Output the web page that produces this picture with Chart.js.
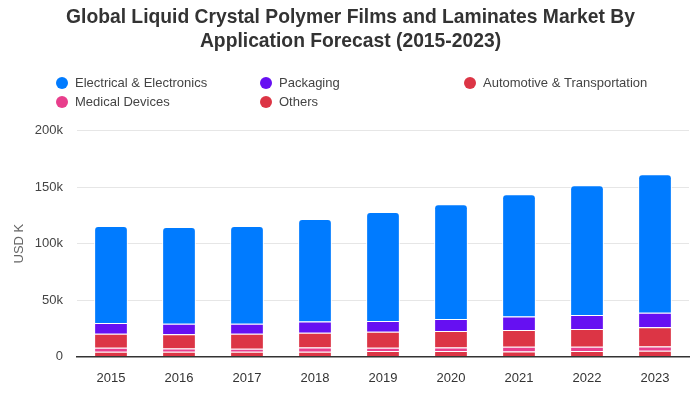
<!DOCTYPE html>
<html>
<head>
<meta charset="utf-8">
<script src="https://cdn.jsdelivr.net/npm/chart.js@4"></script>
<style>
html,body{margin:0;padding:0;background:#fff;}
#wrap{width:700px;height:400px;position:relative;}
</style>
</head>
<body>
<div id="wrap"><canvas id="c" width="700" height="400"></canvas></div>
<script>
const categories = ["2015","2016","2017","2018","2019","2020","2021","2022","2023"];
const electrical = [85.9, 85.8, 86.7, 90.9, 96.5, 101.8, 108.5, 115.0, 122.7];
const packaging  = [9.7, 9.2, 8.9, 10.0, 9.7, 10.6, 11.8, 12.4, 12.9];
const automotive = [12.3, 12.6, 13.2, 12.9, 14.2, 14.7, 15.0, 15.9, 17.1];
const medical    = [3.6, 3.0, 2.7, 3.9, 2.9, 3.2, 4.1, 3.8, 3.8];
const others     = [4.1, 4.1, 4.1, 4.1, 4.7, 4.7, 4.4, 4.7, 5.0];
const seriesNames = ["Electrical & Electronics","Packaging","Automotive & Transportation","Medical Devices","Others"];
const seriesColors = ["#007bff","#6610f2","#dc3545","#e83e8c","#dc3545"];
const yTicks = [0, 50, 100, 150, 200];

const toK = a => a.map(v => v * 1000);

const base = {borderColor:'#ffffff', borderWidth:1, borderSkipped:'bottom', barPercentage:0.62, categoryPercentage:0.8};
const datasets = [
  Object.assign({label:seriesNames[4], data:toK(others), backgroundColor:seriesColors[4]}, base),
  Object.assign({label:seriesNames[3], data:toK(medical), backgroundColor:seriesColors[3]}, base),
  Object.assign({label:seriesNames[2], data:toK(automotive), backgroundColor:seriesColors[2]}, base),
  Object.assign({label:seriesNames[1], data:toK(packaging), backgroundColor:seriesColors[1]}, base),
  Object.assign({label:seriesNames[0], data:toK(electrical), backgroundColor:seriesColors[0]}, base, {borderRadius:{topLeft:4, topRight:4, bottomLeft:0, bottomRight:0}}),
];

const legendPlugin = {
  id:'gridLegend',
  afterDraw(chart){
    const ctx = chart.ctx;
    const cols = [62, 266, 470];
    const rows = [83, 102];
    ctx.save();
    ctx.font = '13px "Liberation Sans", Arial, sans-serif';
    ctx.textBaseline = 'middle';
    ctx.textAlign = 'left';
    seriesNames.forEach((name, i) => {
      const cx = cols[i % 3], cy = rows[Math.floor(i / 3)];
      ctx.fillStyle = seriesColors[i];
      ctx.beginPath(); ctx.arc(cx, cy, 6, 0, Math.PI * 2); ctx.fill();
      ctx.fillStyle = '#444';
      ctx.fillText(name, cx + 13, cy);
    });
    ctx.restore();
  }
};

new Chart(document.getElementById('c'), {
  type:'bar',
  data:{labels:categories, datasets},
  plugins:[legendPlugin],
  options:{
    responsive:false,
    animation:false,
    layout:{padding:{left:12, right:11, top:0, bottom:0}},
    plugins:{
      legend:{display:false},
      tooltip:{enabled:false},
      title:{display:true, text:["Global Liquid Crystal Polymer Films and Laminates Market By","Application Forecast (2015-2023)"],
        color:'#333', font:{family:'"Liberation Sans", Arial, sans-serif', size:19.3, weight:'bold', lineHeight:1.24}, padding:{top:6, bottom:77}}
    },
    scales:{
      x:{stacked:true, grid:{display:false, drawTicks:false}, border:{display:true, color:'#333', width:1.5},
        ticks:{color:'#333', font:{family:'"Liberation Sans", Arial, sans-serif', size:13}, padding:14}},
      y:{stacked:true, min:0, max:200000, afterBuildTicks(axis){axis.ticks = yTicks.map(v => ({value:v*1000}));},
        afterFit(axis){axis.width = 65;},
        grid:{color:'#e6e6e6', drawTicks:false}, border:{display:false},
        ticks:{color:'#444', font:{family:'"Liberation Sans", Arial, sans-serif', size:13}, padding:14,
          callback:v => v === 0 ? '0' : (v/1000) + 'k'},
        title:{display:true, text:'USD K', color:'#666', font:{family:'"Liberation Sans", Arial, sans-serif', size:13}, padding:{top:0,bottom:4}}}
    }
  }
});
</script>
</body>
</html>
